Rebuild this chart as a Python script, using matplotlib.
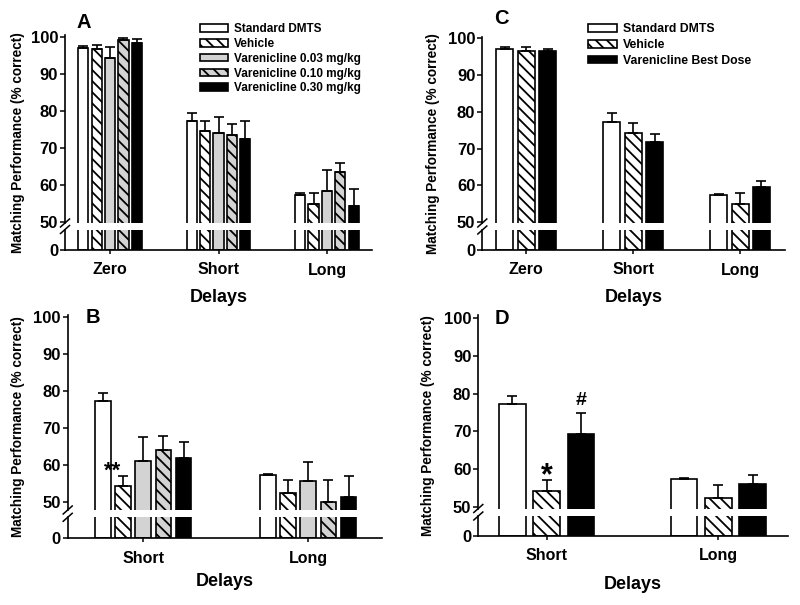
import numpy as np
import matplotlib
matplotlib.use("Agg")
import matplotlib.pyplot as plt
from matplotlib.lines import Line2D

plt.rcParams['font.family'] = ['Liberation Sans', 'DejaVu Sans']
plt.rcParams['font.weight'] = 'bold'
plt.rcParams['hatch.linewidth'] = 1.3

# ---------------- data ----------------
cats_3 = ['Zero', 'Short', 'Long']
cats_2 = ['Short', 'Long']

labels_A = ['Standard DMTS', 'Vehicle', 'Varenicline 0.03 mg/kg',
            'Varenicline 0.10 mg/kg', 'Varenicline 0.30 mg/kg']
A_std = [97.0, 77.3, 57.2];   A_std_sem = [0.6, 2.2, 0.5]
A_veh = [96.7, 74.4, 54.8];   A_veh_sem = [1.0, 2.7, 3.0]
A_v003 = [94.3, 74.1, 58.3];  A_v003_sem = [2.8, 4.1, 5.8]
A_v010 = [99.0, 73.4, 63.4];  A_v010_sem = [0.6, 3.0, 2.4]
A_v030 = [98.4, 72.3, 54.2];  A_v030_sem = [1.1, 5.0, 4.7]

B_std = [77.4, 57.3];  B_std_sem = [2.2, 0.4]
B_veh = [54.4, 52.4];  B_veh_sem = [2.8, 3.5]
B_v003 = [61.2, 55.7]; B_v003_sem = [6.5, 5.1]
B_v010 = [64.0, 50.1]; B_v010_sem = [4.0, 6.0]
B_v030 = [62.0, 51.5]; B_v030_sem = [4.4, 5.7]

labels_C = ['Standard DMTS', 'Vehicle', 'Varenicline Best Dose']
C_std = [97.0, 77.3, 57.3];  C_std_sem = [0.6, 2.3, 0.5]
C_veh = [96.6, 74.3, 54.9];  C_veh_sem = [1.1, 2.8, 3.0]
C_best = [96.5, 71.8, 59.7]; C_best_sem = [0.7, 2.1, 1.5]

D_std = [77.3, 57.3];  D_std_sem = [2.2, 0.4]
D_veh = [54.2, 52.4];  D_veh_sem = [2.8, 3.3]
D_best = [69.2, 56.0]; D_best_sem = [5.7, 2.5]

y_ticks_upper = [50, 60, 70, 80, 90, 100]
y_ticks_lower = [0]
ylabel_text = 'Matching Performance (% correct)'
xlabel_text = 'Delays'

# ---------------- styles ----------------
GRAY = '#d3d3d3'
HATCH = '\\\\\\'
S_STD = dict(fc='white', hatch=None)
S_VEH = dict(fc='white', hatch=HATCH)
S_003 = dict(fc=GRAY, hatch=None)
S_010 = dict(fc=GRAY, hatch=HATCH)
S_030 = dict(fc='black', hatch=None)

W, H = 800, 605
fig = plt.figure(figsize=(W / 100, H / 100), dpi=100)


def rect(x0, x1, ytop, ybot):
    return [x0 / W, 1 - ybot / H, (x1 - x0) / W, (ybot - ytop) / H]


def fx(px):
    return px / W


def fy(py):
    return 1 - py / H


def panel(spec, cats, series, sems, labels, styles, pitch, width, legend=None):
    ax_u = fig.add_axes(rect(spec['x0'], spec['x1'], spec['top'], spec['gap_top']))
    ax_l = fig.add_axes(rect(spec['x0'], spec['x1'], spec['gap_bot'], spec['bottom']))
    x = np.arange(len(cats))
    n = len(series)
    for i, (m, s, lab, st) in enumerate(zip(series, sems, labels, styles)):
        off = (i - (n - 1) / 2) * pitch
        for ax in (ax_u, ax_l):
            ax.bar(x + off, m, width, color=st['fc'], edgecolor='black',
                   hatch=st['hatch'], linewidth=1.2, label=lab, zorder=2)
        ax_u.errorbar(x + off, m, yerr=[np.zeros(len(m)), s], fmt='none',
                      ecolor='black', elinewidth=1.2, capsize=3.6, capthick=1.2,
                      zorder=3)
    for ax in (ax_u, ax_l):
        ax.set_xlim(spec['xlim'])
        ax.spines['top'].set_visible(False)
        ax.spines['right'].set_visible(False)
        ax.spines['left'].set_linewidth(1.2)
        ax.spines['bottom'].set_linewidth(1.2)
        ax.tick_params(axis='y', direction='out', length=3.5, width=1.1,
                       pad=1.5, labelsize=12)
    ax_u.spines['bottom'].set_visible(False)
    ax_u.set_ylim(spec['ylim'])
    ax_u.set_yticks(y_ticks_upper)
    ax_u.set_xticks([])
    ax_l.set_ylim(0, 3)
    ax_l.set_yticks(y_ticks_lower)
    ax_l.set_xticks(x)
    ax_l.set_xticklabels(cats)
    ax_l.tick_params(axis='x', direction='out', length=3, width=1.1, pad=6,
                     labelsize=11.5)
    ax_l.set_xlabel(xlabel_text, fontsize=13, fontweight='bold',
                    labelpad=spec['xlabelpad'])
    # y label
    fig.text(fx(spec['ylab_x']), fy((spec['top'] + spec['bottom']) / 2),
             ylabel_text, rotation=90, ha='center', va='center',
             fontsize=9.8, fontweight='bold')
    # panel letter
    fig.text(fx(spec['let_x']), fy(spec['let_y']), spec['letter'],
             ha='center', va='center', fontsize=14.5, fontweight='bold')
    # break marks
    for yy in (spec['gap_top'], spec['gap_bot']):
        fig.add_artist(Line2D([fx(spec['x0'] - 4.5), fx(spec['x0'] + 4.5)],
                              [fy(yy + 4), fy(yy - 4)], color='black', lw=1.1))
    if legend is not None:
        ax_u.legend(loc='upper left',
                    bbox_to_anchor=(fx(legend['x']), fy(legend['y'])),
                    bbox_transform=fig.transFigure, frameon=False,
                    handlelength=legend['hl'],
                    handleheight=legend['hh'], handletextpad=0.45,
                    labelspacing=legend['ls'], borderpad=0, borderaxespad=0,
                    prop=dict(weight='bold', size=legend['fs']))
    return ax_u, ax_l


# Panel A
specA = dict(x0=65, x1=372, top=35, gap_top=223, gap_bot=229.5, bottom=250,
             xlim=(-0.415, 2.415), ylim=(49.65, 100.46), xlabelpad=8,
             ylab_x=18, let_x=84, let_y=22, letter='A')
panel(specA, cats_3,
      [A_std, A_veh, A_v003, A_v010, A_v030],
      [A_std_sem, A_veh_sem, A_v003_sem, A_v010_sem, A_v030_sem],
      labels_A, [S_STD, S_VEH, S_003, S_010, S_030], 0.123, 0.095,
      legend=dict(x=200, y=23, fs=8.5, hl=2.4, hh=0.62, ls=0.24))

# Panel C
specC = dict(x0=482.3, x1=785, top=37, gap_top=223, gap_bot=230, bottom=250,
             xlim=(-0.41, 2.42), ylim=(49.8, 100.35), xlabelpad=8,
             ylab_x=433, let_x=501.7, let_y=19, letter='C')
panel(specC, cats_3, [C_std, C_veh, C_best],
      [C_std_sem, C_veh_sem, C_best_sem],
      labels_C, [S_STD, S_VEH, S_030], 0.2, 0.16,
      legend=dict(x=587.7, y=23, fs=8.8, hl=2.4, hh=0.62, ls=0.32))

# Panel B
specB = dict(x0=67.7, x1=381.7, top=315, gap_top=510, gap_bot=517.3, bottom=538.3,
             xlim=(-0.458, 1.445), ylim=(47.9, 100.62), xlabelpad=5,
             ylab_x=18, let_x=93.3, let_y=317.5, letter='B')
axB_u, _ = panel(specB, cats_2,
                 [B_std, B_veh, B_v003, B_v010, B_v030],
                 [B_std_sem, B_veh_sem, B_v003_sem, B_v010_sem, B_v030_sem],
                 labels_A, [S_STD, S_VEH, S_003, S_010, S_030], 0.122, 0.095)
axB_u.annotate('**', xy=(0 - 1.5 * 0.122, B_veh[0] + B_veh_sem[0]),
               xytext=(0, -1), textcoords='offset points', ha='center',
               va='baseline', fontsize=16, fontweight='bold')

# Panel D
specD = dict(x0=478.3, x1=788, top=315, gap_top=508.5, gap_bot=516, bottom=535.7,
             xlim=(-0.399, 1.406), ylim=(49.52, 100.88), xlabelpad=9,
             ylab_x=428, let_x=501.7, let_y=318, letter='D')
axD_u, _ = panel(specD, cats_2, [D_std, D_veh, D_best],
                 [D_std_sem, D_veh_sem, D_best_sem],
                 labels_C, [S_STD, S_VEH, S_030], 0.2, 0.155)
axD_u.annotate('*', xy=(0, D_veh[0] + D_veh_sem[0]),
               xytext=(0, -2.5), textcoords='offset points', ha='center',
               va='baseline', fontsize=22, fontweight='bold')
axD_u.annotate('#', xy=(0.2, D_best[0] + D_best_sem[0]),
               xytext=(0, 5.8), textcoords='offset points', ha='center',
               va='baseline', fontsize=14, fontweight='bold')

fig.savefig('out.png', dpi=100)
